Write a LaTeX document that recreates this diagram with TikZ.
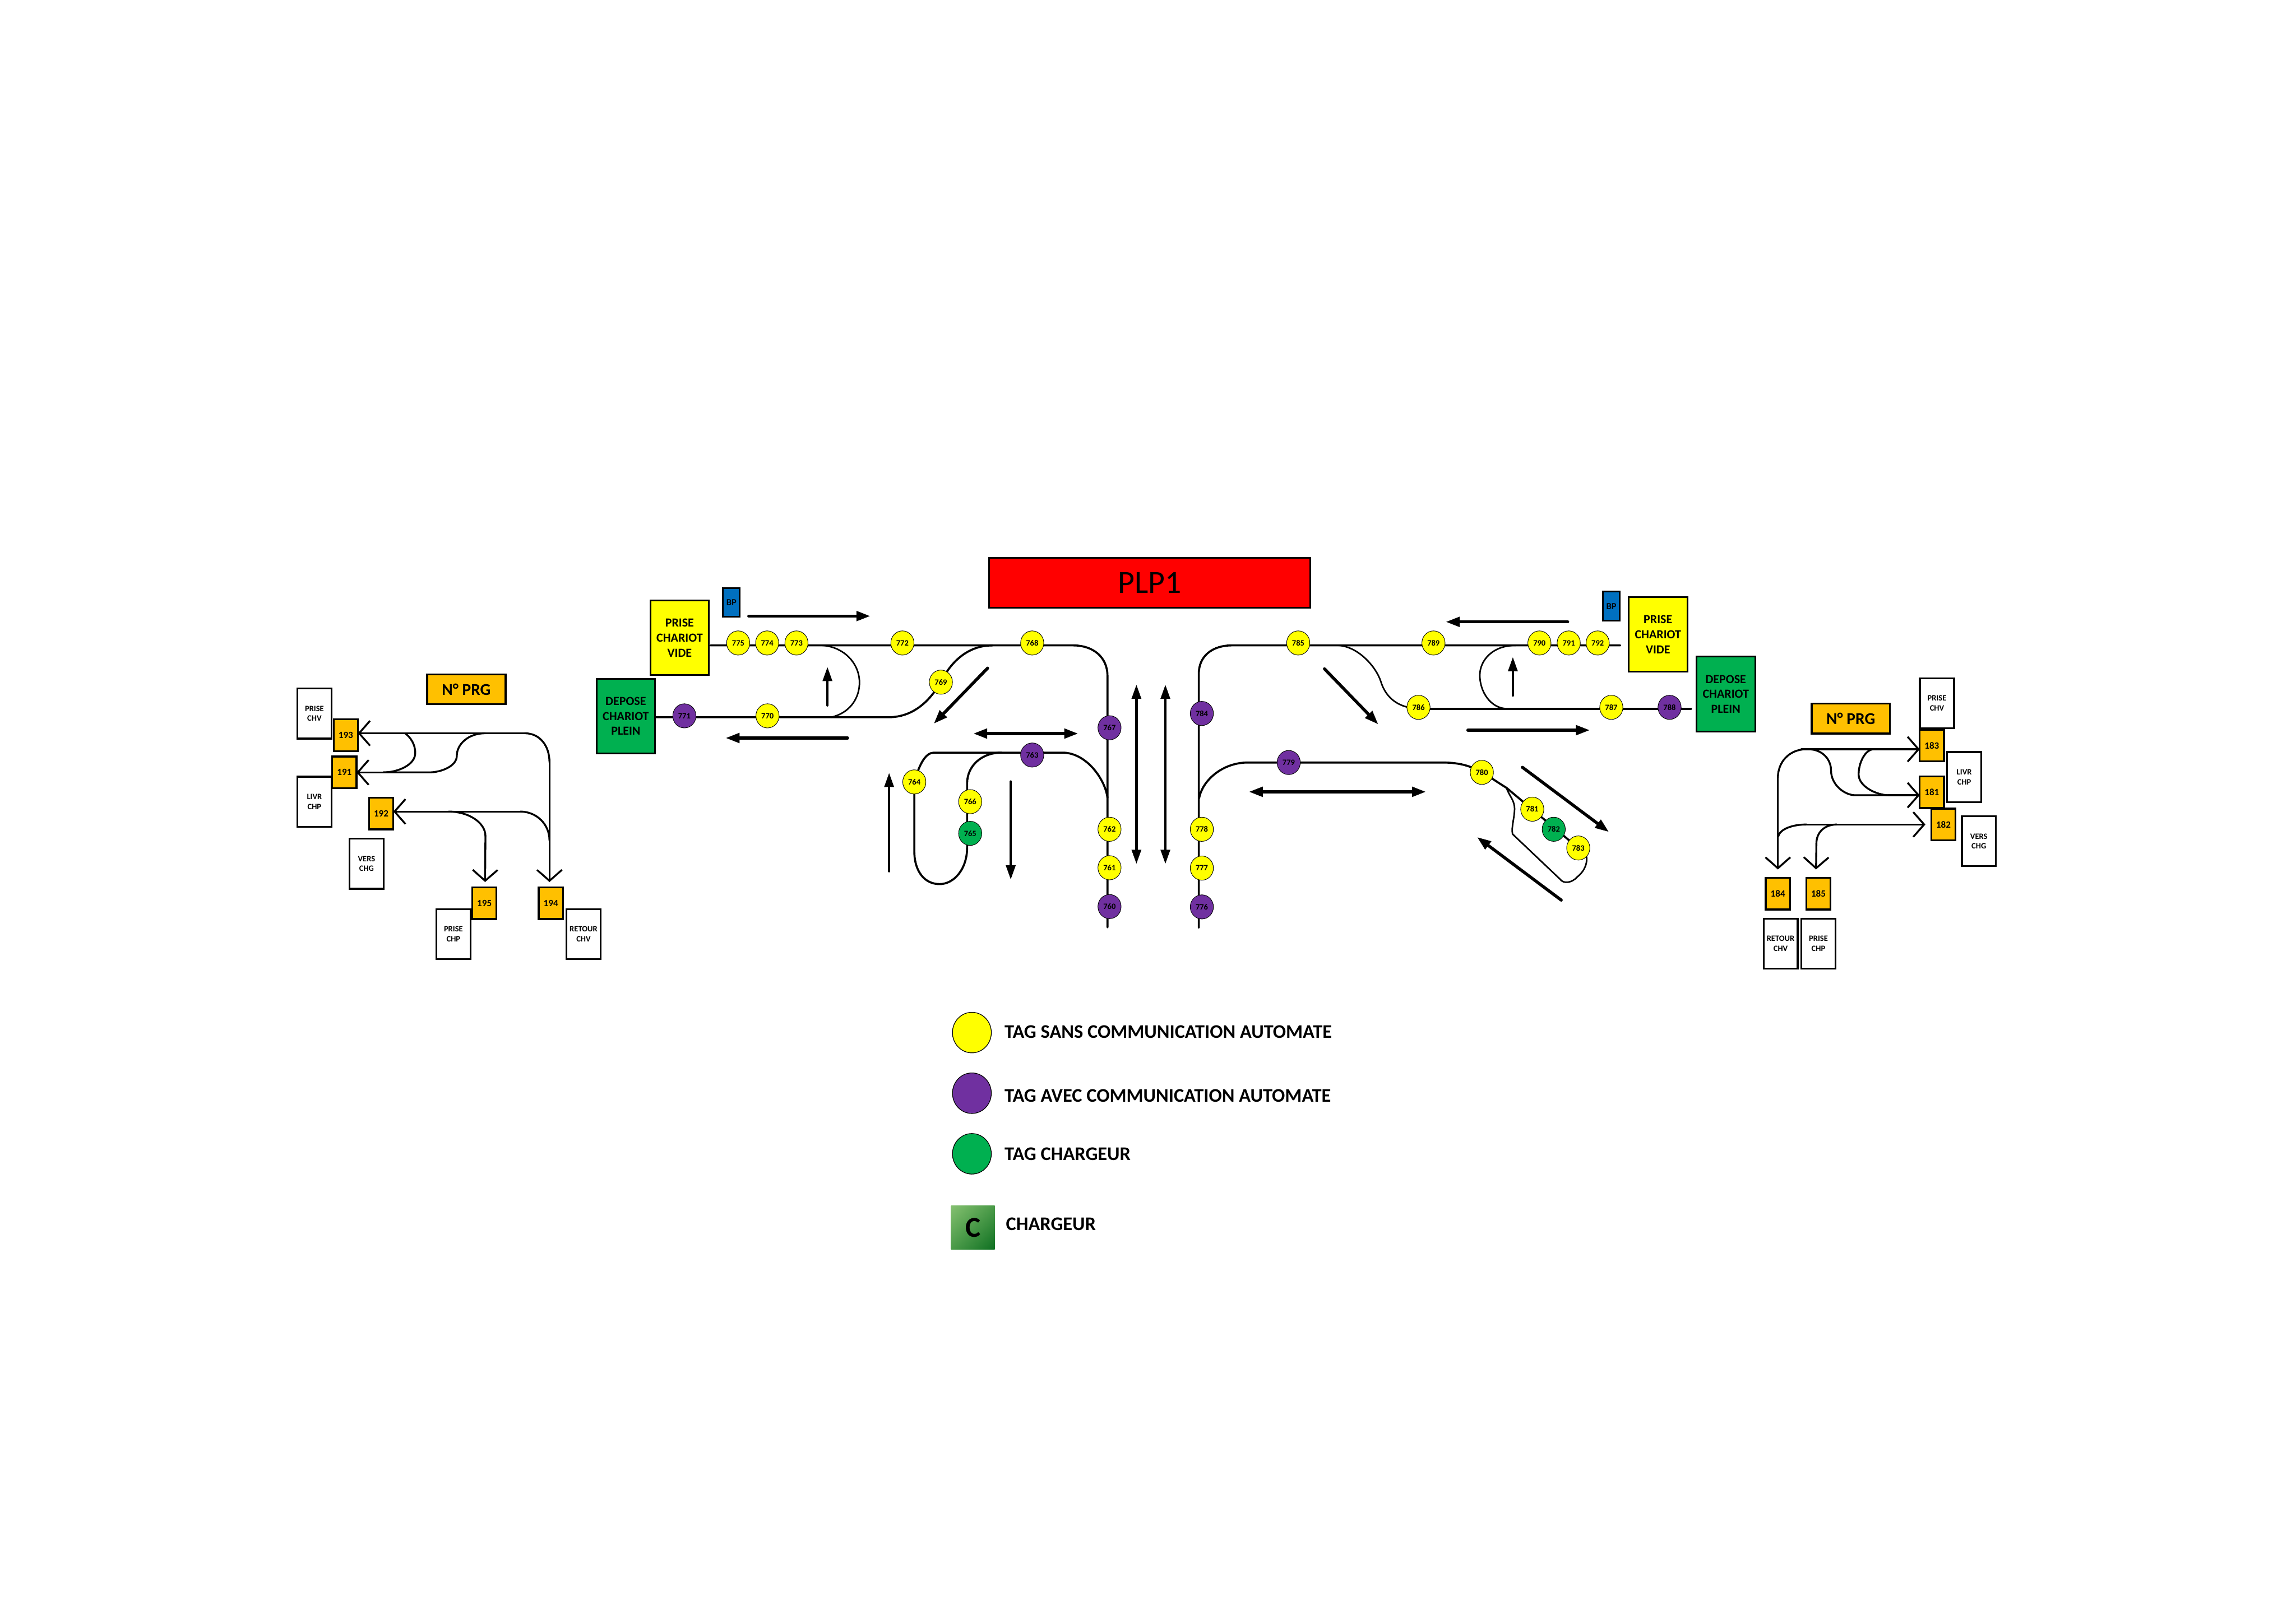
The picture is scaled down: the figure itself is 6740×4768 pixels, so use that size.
\documentclass[tikz,border=0pt]{standalone}
\usepackage{fontspec}
\setmainfont{Carlito}
\usetikzlibrary{arrows.meta,shapes.geometric,backgrounds,shadings}
\definecolor{tyellow}{HTML}{FFFF00}
\definecolor{tpurple}{HTML}{7030A0}
\definecolor{tgreen}{HTML}{00B050}
\definecolor{torange}{HTML}{FFC000}
\definecolor{tblue}{HTML}{0070C0}
\definecolor{clight}{HTML}{84C070}
\definecolor{cmid}{HTML}{4A9A48}
\definecolor{cdark}{HTML}{0F7022}
\newcommand{\fsz}[2]{\fontsize{#1}{#2}\selectfont\bfseries}
\tikzset{
  every node/.style={inner sep=0pt,outer sep=0pt,align=center,text=black},
  tagbase/.style={ellipse,draw=black,line width=.015cm,minimum width=.68cm,minimum height=.71cm,font=\fsz{6.8pt}{7pt}},
  tagy/.style={tagbase,fill=tyellow},
  tagp/.style={tagbase,fill=tpurple},
  tagg/.style={tagbase,fill=tgreen},
  legtag/.style={ellipse,draw=black,line width=.02cm,minimum width=1.14cm,minimum height=1.19cm},
  wbox/.style={rectangle,draw=black,line width=.055cm,fill=white,minimum width=1cm,minimum height=1.47cm,font=\fsz{6.8pt}{8.2pt}},
  nbox/.style={rectangle,draw=black,line width=.055cm,fill=torange,minimum width=.71cm,minimum height=.93cm,font=\fsz{8pt}{9pt}},
  prgbox/.style={rectangle,draw=black,line width=.055cm,fill=torange,minimum width=2.3cm,minimum height=.88cm,font=\fsz{13.8pt}{15pt}},
  bigbox/.style={rectangle,draw=black,line width=.05cm,minimum width=1.72cm,minimum height=2.19cm,font=\fsz{10.3pt}{12.5pt}},
  bpbox/.style={rectangle,draw=black,line width=.05cm,fill=tblue,minimum width=.49cm,minimum height=.85cm,font=\fsz{7.7pt}{9pt}},
  legtext/.style={anchor=west,font=\fsz{16.1pt}{18pt}},
  track/.style={draw=black,line width=.06cm,line cap=round,line join=round},
  thintrack/.style={track,line width=.045cm},
  prog/.style={draw=black,line width=.055cm,line cap=round,line join=round},
  progarrow/.style={prog,-{Straight Barb[length=.32cm,width=.73cm]}},
  flow/.style={draw=black,line width=.09cm,line cap=round,-{Triangle[length=.41cm,width=.28cm]}},
  flowthin/.style={draw=black,line width=.075cm,line cap=round,-{Triangle[length=.42cm,width=.27cm]}},
  flowboth/.style={draw=black,line width=.09cm,{Triangle[length=.41cm,width=.28cm]}-{Triangle[length=.41cm,width=.28cm]}},
  flowbothv/.style={draw=black,line width=.075cm,{Triangle[length=.42cm,width=.27cm]}-{Triangle[length=.42cm,width=.27cm]}},
}
\begin{document}
\begin{tikzpicture}[x=.01cm,y=-.01cm]
\useasboundingbox (0,0) rectangle (6740,4768);

% title
\node[rectangle,draw=black,line width=.055cm,fill=red,minimum width=9.42cm,minimum height=1.46cm,font=\fontsize{27pt}{30pt}\selectfont] (plp) at (3375,1711) {PLP1};

% left program block
\node[prgbox] (prgL) at (1369,2024) {N° PRG};
\node[wbox] (wL1) at (923,2095) {PRISE\\CHV};
\node[wbox] (wL2) at (923,2354) {LIVR\\CHP};
\node[wbox] (wL3) at (1076,2536) {VERS\\CHG};
\node[wbox] (wL4) at (1331,2743) {PRISE\\CHP};
\node[wbox] (wL5) at (1713,2743) {RETOUR\\CHV};
\node[nbox] (n193) at (1015,2159) {193};
\node[nbox] (n191) at (1011,2268) {191};
\node[nbox] (n192) at (1119,2389) {192};
\node[nbox] (n195) at (1422,2652) {195};
\node[nbox] (n194) at (1617,2652) {194};

% right program block
\node[prgbox] (prgR) at (5433,2110) {N° PRG};
\node[wbox] (wR1) at (5686,2065) {PRISE\\CHV};
\node[wbox] (wR2) at (5766,2282) {LIVR\\CHP};
\node[wbox] (wR3) at (5809,2470) {VERS\\CHG};
\node[wbox] (wR4) at (5227,2771) {RETOUR\\CHV};
\node[wbox] (wR5) at (5338,2771) {PRISE\\CHP};
\node[nbox] (n183) at (5671,2189) {183};
\node[nbox] (n181) at (5671,2326) {181};
\node[nbox] (n182) at (5705,2421) {182};
\node[nbox] (n184) at (5219,2624) {184};
\node[nbox] (n185) at (5338,2624) {185};

% stations
\node[bigbox,fill=tyellow] (pcvL) at (1995,1873) {PRISE\\CHARIOT\\VIDE};
\node[bigbox,fill=tgreen] (dcpL) at (1837,2103) {DEPOSE\\CHARIOT\\PLEIN};
\node[bpbox] (bpL) at (2147,1769) {BP};
\node[bigbox,fill=tyellow] (pcvR) at (4867,1863) {PRISE\\CHARIOT\\VIDE};
\node[bigbox,fill=tgreen] (dcpR) at (5066,2038) {DEPOSE\\CHARIOT\\PLEIN};
\node[bpbox] (bpR) at (4730,1780) {BP};

% tags
\node[tagy] (t775) at (2167,1888) {775};
\node[tagy] (t774) at (2252,1888) {774};
\node[tagy] (t773) at (2338,1888) {773};
\node[tagy] (t772) at (2649,1888) {772};
\node[tagy] (t768) at (3030,1888) {768};
\node[tagy] (t769) at (2762,2003) {769};
\node[tagy] (t770) at (2253,2102) {770};
\node[tagp] (t771) at (2009,2102) {771};
\node[tagp] (t767) at (3257,2137) {767};
\node[tagp] (t763) at (3030,2217) {763};
\node[tagy] (t764) at (2684,2296) {764};
\node[tagy] (t766) at (2848,2354) {766};
\node[tagg] (t765) at (2848,2447) {765};
\node[tagy] (t762) at (3257,2435) {762};
\node[tagy] (t761) at (3257,2548) {761};
\node[tagp] (t760) at (3257,2662) {760};
\node[tagy] (t785) at (3811,1888) {785};
\node[tagy] (t789) at (4208,1888) {789};
\node[tagy] (t790) at (4519,1888) {790};
\node[tagy] (t791) at (4605,1888) {791};
\node[tagy] (t792) at (4690,1888) {792};
\node[tagp] (t784) at (3528,2095) {784};
\node[tagy] (t786) at (4164,2077) {786};
\node[tagy] (t787) at (4730,2077) {787};
\node[tagp] (t788) at (4901,2077) {788};
\node[tagp] (t779) at (3783,2239) {779};
\node[tagy] (t780) at (4350,2268) {780};
\node[tagy] (t781) at (4498,2376) {781};
\node[tagg] (t782) at (4561,2435) {782};
\node[tagy] (t783) at (4633,2490) {783};
\node[tagy] (t778) at (3528,2435) {778};
\node[tagy] (t777) at (3528,2549) {777};
\node[tagp] (t776) at (3528,2663) {776};

% legend
\node[legtag,fill=tyellow] (legY) at (2853,3032) {};
\node[legtag,fill=tpurple] (legP) at (2853,3210) {};
\node[legtag,fill=tgreen] (legG) at (2853,3388) {};
\node[rectangle,minimum width=1.28cm,minimum height=1.28cm,shade,upper left=clight,upper right=cmid,lower left=cmid,lower right=cdark,font=\fsz{24pt}{26pt}] (legC) at (2856,3605) {C};
\node[legtext] (txtY) at (2949,3030) {TAG SANS COMMUNICATION AUTOMATE};
\node[legtext] (txtP) at (2949,3217) {TAG AVEC COMMUNICATION AUTOMATE};
\node[legtext] (txtG) at (2949,3389) {TAG CHARGEUR};
\node[legtext] (txtC) at (2953,3595) {CHARGEUR};

% named junctions
\coordinate (a1) at (2086,1895);
\coordinate (a2) at (3149,1895);
\coordinate (a3) at (3251,1985);
\coordinate (a4) at (3251,2723);
\coordinate (b1) at (1923,2106);
\coordinate (b2) at (2608,2106);
\coordinate (b3) at (2914,1895);
\coordinate (b4) at (2414,1895);
\coordinate (b5) at (2440,2106);
\coordinate (c1) at (2742,2210);
\coordinate (c2) at (3119,2210);
\coordinate (c3) at (3251,2343);
\coordinate (c4) at (2684,2499);
\coordinate (c5) at (2758,2596);
\coordinate (c6) at (2839,2489);
\coordinate (c7) at (2839,2300);
\coordinate (c8) at (2940,2210);
\coordinate (d1) at (4756,1895);
\coordinate (d2) at (3617,1895);
\coordinate (d3) at (3519,1979);
\coordinate (d4) at (3519,2724);
\coordinate (d5) at (3930,1895);
\coordinate (d6) at (4053,2000);
\coordinate (d7) at (4964,2081);
\coordinate (d8) at (4164,2081);
\coordinate (d9) at (4450,1895);
\coordinate (d10) at (4344,1983);
\coordinate (d11) at (4425,2081);
\coordinate (e1) at (3520,2344);
\coordinate (e2) at (3663,2239);
\coordinate (e3) at (4235,2239);
\coordinate (e4) at (4422,2313);
\coordinate (e5) at (4446,2375);
\coordinate (e6) at (4440,2449);
\coordinate (e7) at (4579,2581);
\coordinate (e8) at (4630,2575);

\coordinate (f1) at (1540,2153);
\coordinate (f2) at (1613,2238);
\coordinate (f3) at (1613,2590);
\coordinate (f4) at (1189,2153);
\coordinate (f5) at (1219,2211);
\coordinate (f6) at (1125,2268);
\coordinate (f7) at (1425,2153);
\coordinate (f8) at (1341,2219);
\coordinate (f9) at (1259,2268);
\coordinate (f10) at (1527,2383);
\coordinate (f11) at (1613,2468);
\coordinate (f12) at (1317,2383);
\coordinate (f13) at (1425,2455);
\coordinate (f14) at (1424,2590);

\coordinate (g1) at (5288,2200);
\coordinate (g2) at (5303,2200);
\coordinate (g3) at (5219,2283);
\coordinate (g4) at (5219,2553);
\coordinate (g5) at (5308,2200);
\coordinate (g6) at (5375,2262);
\coordinate (g7) at (5446,2335);
\coordinate (g8) at (5501,2200);
\coordinate (g9) at (5456,2274);
\coordinate (g10) at (5544,2335);
\coordinate (g11) at (5652,2421);
\coordinate (g12) at (5303,2421);
\coordinate (g13) at (5220,2456);
\coordinate (g14) at (5392,2421);
\coordinate (g15) at (5332,2477);
\coordinate (g16) at (5331,2553);

\begin{scope}[on background layer]
% left tracks
\path[track] (a1) -- (a2) .. controls (3210,1895) and (3251,1930) .. (a3) -- (a4);
\path[track] (b1) -- (b2) .. controls (2680,2106) and (2728,2060) .. (t769.center) .. controls (2790,1945) and (2840,1895) .. (b3);
\path[thintrack] (b4) .. controls (2480,1900) and (2523,1950) .. (2523,2004) .. controls (2523,2055) and (2490,2095) .. (b5);
\path[track] (t764.center) .. controls (2700,2240) and (2718,2210) .. (c1) -- (c2) .. controls (3190,2210) and (3245,2290) .. (c3);
\path[track] (t764.center) -- (c4) .. controls (2684,2560) and (2715,2596) .. (c5) .. controls (2802,2596) and (2839,2550) .. (c6) -- (c7) .. controls (2839,2250) and (2880,2210) .. (c8);
% right tracks
\path[track] (d1) -- (d2) .. controls (3560,1895) and (3519,1925) .. (d3) -- (d4);
\path[track] (d7) -- (d8);
\path[thintrack] (d5) .. controls (3990,1900) and (4040,1960) .. (d6) .. controls (4065,2040) and (4095,2078) .. (d8);
\path[thintrack] (d9) .. controls (4380,1895) and (4344,1940) .. (d10) .. controls (4344,2030) and (4375,2081) .. (d11);
\path[track] (e1) .. controls (3530,2290) and (3590,2239) .. (e2) -- (e3) .. controls (4285,2239) and (4320,2250) .. (t780.center) .. controls (4380,2285) and (4400,2300) .. (e4) -- (t783.center);
\path[thintrack] (e4) .. controls (4432,2340) and (4446,2350) .. (e5) .. controls (4446,2400) and (4436,2430) .. (e6) -- (e7) .. controls (4590,2597) and (4615,2592) .. (e8) .. controls (4655,2555) and (4660,2530) .. (t783.south east);
\end{scope}

% left program connectors
\path[prog] (f1) .. controls (1585,2153) and (1613,2190) .. (f2);
\path[progarrow] (f2) -- (f3);
\path[progarrow] (f1) -- (n193.east |- f1);
\path[prog] (f4) .. controls (1205,2165) and (1219,2185) .. (f5) .. controls (1219,2245) and (1170,2268) .. (f6);
\path[prog] (f7) .. controls (1375,2153) and (1341,2185) .. (f8) .. controls (1341,2250) and (1295,2268) .. (f9) -- (f6);
\path[progarrow] (f6) -- (n191.east);
\path[progarrow] (f10) -- (n192.east |- f10);
\path[prog] (f10) .. controls (1575,2383) and (1613,2420) .. (f11);
\path[prog] (f12) .. controls (1375,2383) and (1425,2415) .. (f13);
\path[progarrow] (f13) -- (f14);

% right program connectors
\path[progarrow] (g1) -- (n183.west |- g1);
\path[prog] (g2) .. controls (5250,2200) and (5219,2240) .. (g3);
\path[progarrow] (g3) -- (g4);
\path[prog] (g5) .. controls (5350,2200) and (5375,2230) .. (g6) .. controls (5375,2305) and (5415,2335) .. (g7) -- (g10);
\path[prog] (g8) .. controls (5475,2200) and (5456,2240) .. (g9) .. controls (5456,2310) and (5510,2335) .. (g10);
\path[progarrow] (g10) -- (n181.west |- g10);
\path[progarrow] (g12) -- (g11);
\path[prog] (g12) .. controls (5260,2421) and (5225,2435) .. (g13);
\path[prog] (g14) .. controls (5355,2421) and (5332,2445) .. (g15);
\path[progarrow] (g15) -- (g16);

% flow arrows
\coordinate (h1s) at (2198,1809); \coordinate (h1e) at (2555,1809);
\path[flow] (h1s) -- (h1e);
\coordinate (h2s) at (2488,2167); \coordinate (h2e) at (2130,2167);
\path[flow] (h2s) -- (h2e);
\coordinate (h3s) at (2429,2071); \coordinate (h3e) at (2429,1958);
\path[flowthin] (h3s) -- (h3e);
\coordinate (h4s) at (2899,1962); \coordinate (h4e) at (2741,2125);
\path[flow] (h4s) -- (h4e);
\coordinate (h5s) at (2857,2154); \coordinate (h5e) at (3165,2154);
\path[flowboth] (h5s) -- (h5e);
\coordinate (h6s) at (2610,2558); \coordinate (h6e) at (2610,2269);
\path[flowthin] (h6s) -- (h6e);
\coordinate (h7s) at (2967,2295); \coordinate (h7e) at (2967,2583);
\path[flowthin] (h7s) -- (h7e);
\coordinate (h8s) at (3336,2010); \coordinate (h8e) at (3336,2537);
\path[flowbothv] (h8s) -- (h8e);
\coordinate (h9s) at (3421,2010); \coordinate (h9e) at (3421,2537);
\path[flowbothv] (h9s) -- (h9e);
\coordinate (i1s) at (4602,1826); \coordinate (i1e) at (4244,1826);
\path[flow] (i1s) -- (i1e);
\coordinate (i2s) at (4441,2042); \coordinate (i2e) at (4441,1929);
\path[flowthin] (i2s) -- (i2e);
\coordinate (i3s) at (3888,1964); \coordinate (i3e) at (4046,2127);
\path[flow] (i3s) -- (i3e);
\coordinate (i4s) at (4309,2144); \coordinate (i4e) at (4667,2144);
\path[flow] (i4s) -- (i4e);
\coordinate (i5s) at (3666,2325); \coordinate (i5e) at (4186,2325);
\path[flowboth] (i5s) -- (i5e);
\coordinate (i6s) at (4469,2253); \coordinate (i6e) at (4723,2443);
\path[flow] (i6s) -- (i6e);
\coordinate (i7s) at (4583,2643); \coordinate (i7e) at (4336,2458);
\path[flow] (i7s) -- (i7e);
\end{tikzpicture}
\end{document}
